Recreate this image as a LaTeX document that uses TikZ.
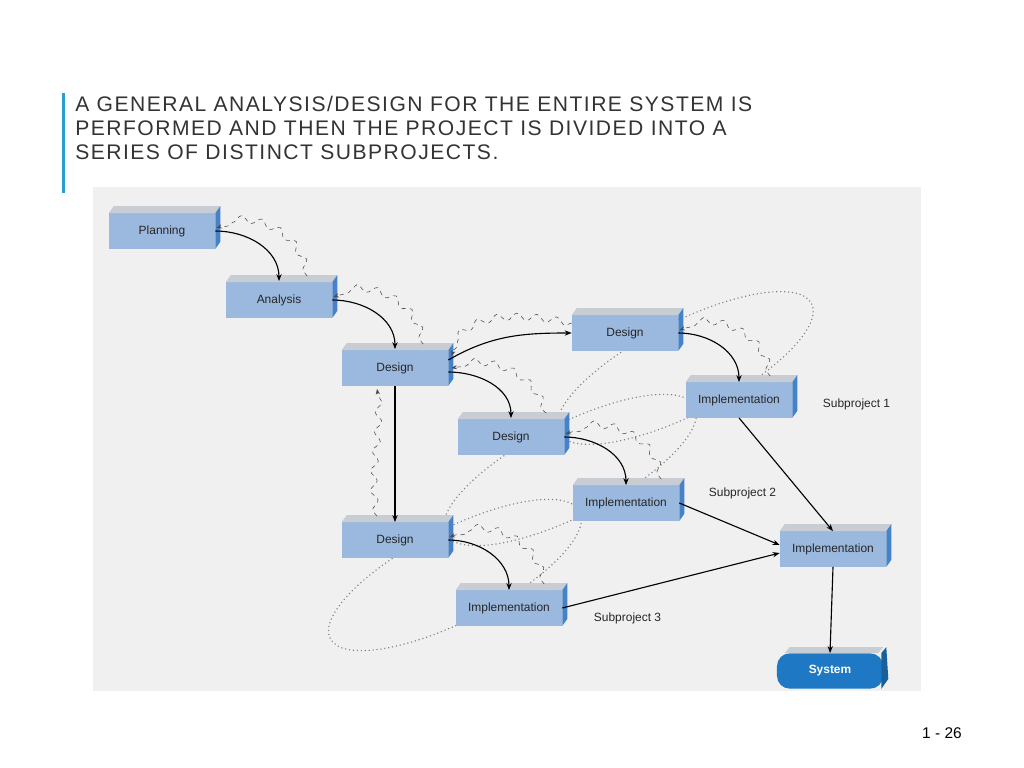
\documentclass[tikz,border=0pt]{standalone}
\usepackage{fontspec}
\setmainfont{Liberation Sans}
\newfontfamily\titlefont[LetterSpace=7]{Liberation Sans}
\usepackage{tikz}
\usetikzlibrary{positioning,arrows.meta,decorations.pathmorphing,backgrounds,calc}

\definecolor{boxblue}{RGB}{155,185,222}
\definecolor{boxside}{RGB}{70,130,200}
\definecolor{boxtop}{RGB}{200,205,212}
\definecolor{sysblue}{RGB}{30,120,195}
\definecolor{panel}{RGB}{240,240,240}
\definecolor{barblue}{RGB}{40,160,205}

\tikzset{
  stage/.style={fill=boxblue, minimum width=2.65cm, minimum height=0.88cm, inner sep=0pt, font=\fontsize{8.5}{10}\selectfont, text=black!85},
  flow/.style={-{Stealth[length=5pt]}, thick, black},
  feedback/.style={-{Stealth[length=4pt]}, dashed, black!70, decorate, decoration={snake, amplitude=2.5pt, segment length=14pt, post length=4pt}},
  subgroup/.style={dotted, gray, thick},
  sublabel/.style={font=\fontsize{8.5}{10}\selectfont, text=black!85, anchor=west}
}

\begin{document}
\begin{tikzpicture}[x=0.025cm, y=-0.025cm]
\useasboundingbox (0,0) rectangle (1024,768);

% title and page number
\fill[barblue] (62,93) rectangle (65,193);
\node[anchor=north west, align=left, inner sep=0pt, font=\titlefont\fontsize{15}{17}\selectfont, text=black!80] (title) at (75,96)
  {A GENERAL ANALYSIS/DESIGN FOR THE ENTIRE SYSTEM IS\\PERFORMED AND THEN THE PROJECT IS DIVIDED INTO A\\SERIES OF DISTINCT SUBPROJECTS.};
\node[font=\rmfamily\fontsize{11}{13}\selectfont] (page) at (942,733) {1 - 26};

% panel
\fill[panel] (93,187) rectangle (921,691);

% subproject groups
\draw[subgroup, rotate around={27:(685,368)}] (685,368) ellipse (142 and 46);
\draw[subgroup, rotate around={27:(570,470)}] (570,470) ellipse (140 and 46);
\draw[subgroup, rotate around={27:(455,575)}] (455,575) ellipse (140 and 46);

% stages
\node[stage] (plan) at (162,231) {Planning};
\node[stage] (anal) at (279,300) {Analysis};
\node[stage] (des) at (395,368) {Design};
\node[stage] (desA) at (625,333) {Design};
\node[stage] (impA) at (739,400) {Implementation};
\node[stage] (desB) at (511,437) {Design};
\node[stage] (impB) at (626,503) {Implementation};
\node[stage] (desC) at (395,540) {Design};
\node[stage] (impC) at (509,608) {Implementation};
\node[stage] (impall) at (833,549) {Implementation};
\node[stage, fill=sysblue, text=white, rounded corners=9pt, font=\bfseries\fontsize{8.5}{10}\selectfont] (sys) at (830,671) {System};

% 3D faces
\foreach \n in {plan,anal,des,desA,impA,desB,impB,desC,impC,impall}{
  \fill[boxtop] (\n.north west) -- ++(5,-7) -- ($(\n.north east)+(5,-7)$) -- (\n.north east) -- cycle;
  \fill[boxside] (\n.north east) -- ++(5,-7) -- ($(\n.south east)+(5,-7)$) -- (\n.south east) -- cycle;
}
\fill[boxtop] ($(sys.north west)+(8,0)$) -- ++(5,-6) -- ($(sys.north east)+(0,-6)$) -- ($(sys.north east)+(-5,0)$) -- cycle;
\fill[sysblue!80!black] ($(sys.north east)+(-2,0)$) -- ++(5,-6) -- ($(sys.south east)+(5,-10)$) -- ($(sys.south east)+(-2,0)$) -- cycle;

\node[sublabel] (labA) at (818,404) {Subproject 1};
\node[sublabel] (labB) at (704,493) {Subproject 2};
\node[sublabel] (labC) at (589,618) {Subproject 3};

% forward flow
\draw[flow] (plan.east) to[out=0, in=90] ($(anal.north)+(0,-1)$);
\draw[flow] (anal.east) to[out=0, in=90] ($(des.north)+(0,-1)$);
\draw[flow] ($(des.east)+(0,-8)$) to[out=30, in=180] (desA.west);
\draw[flow] ($(des.east)+(0,4)$) to[out=0, in=90] ($(desB.north)+(0,-1)$);
\draw[flow] (des.south) -- (desC.north);
\draw[flow] (desA.east) to[out=0, in=90] (impA.north);
\draw[flow] (desB.east) to[out=0, in=90] (impB.north);
\draw[flow] (desC.east) to[out=0, in=90] (impC.north);
\draw[flow] (impA.south) -- (impall.north);
\draw[flow] (impB.east) -- ($(impall.west)+(0,-4)$);
\draw[flow] (impC.east) -- ($(impall.west)+(0,4)$);
\draw[flow] (impall.south) -- (sys.north);

% feedback
\draw[feedback] ($(anal.north east)+(-25,-6)$) to[out=100, in=20] ($(plan.east)+(1,-3)$);
\draw[feedback] ($(des.north east)+(-25,-6)$) to[out=100, in=20] ($(anal.east)+(1,-3)$);
\draw[feedback] ($(desA.west)+(0,-10)$) to[out=170, in=70] ($(des.east)+(3,-12)$);
\draw[feedback] ($(desB.north east)+(-18,-6)$) to[out=110, in=10] ($(des.east)+(3,0)$);
\draw[feedback] ($(desC.north)+(-18,-6)$) to[out=100, in=-80] ($(des.south)+(-18,3)$);
\draw[feedback] ($(impA.north east)+(-22,-6)$) to[out=100, in=20] ($(desA.east)+(1,-3)$);
\draw[feedback] ($(impB.north east)+(-18,-6)$) to[out=100, in=20] ($(desB.east)+(1,-3)$);
\draw[feedback] ($(impC.north east)+(-18,-6)$) to[out=100, in=20] ($(desC.east)+(1,-3)$);
\end{tikzpicture}
\end{document}
